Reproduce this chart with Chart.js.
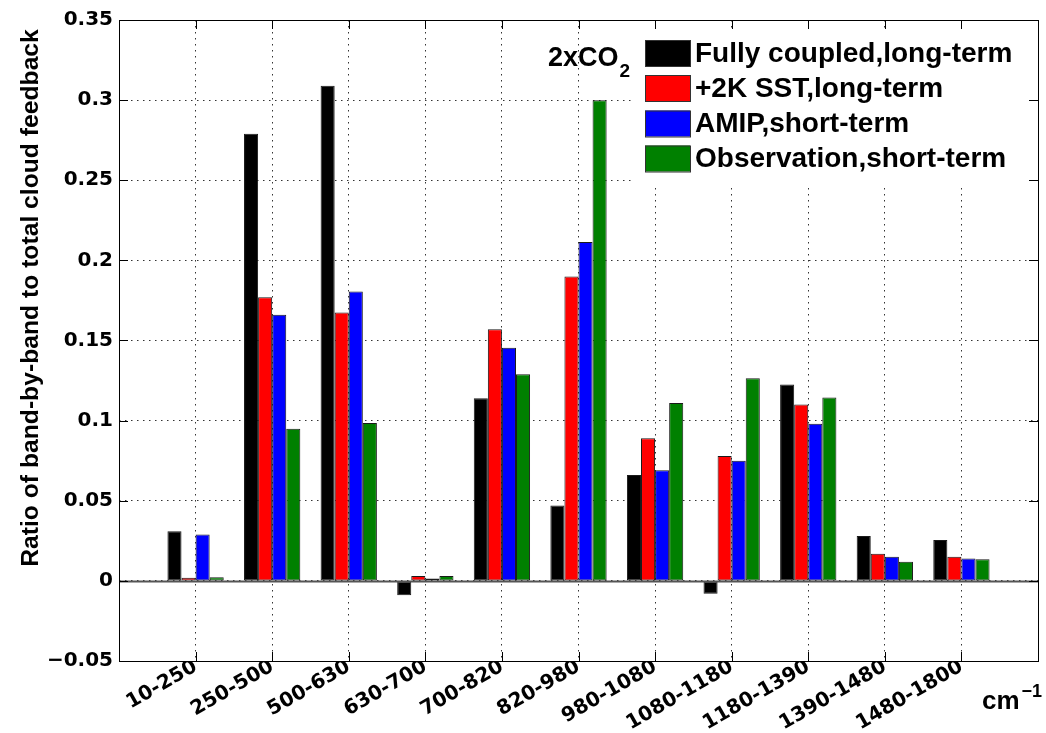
<!DOCTYPE html>
<html>
<head>
<meta charset="utf-8">
<title>Band-by-band cloud feedback ratio</title>
<script src="https://cdn.jsdelivr.net/npm/chart.js@4"></script>
<style>
  html, body { margin: 0; padding: 0; background: #fff; }
  #wrap { width: 1046px; height: 733px; }
</style>
</head>
<body>
<div id="wrap"><canvas id="chart" width="1046" height="733"></canvas></div>
<script>
// Spectral bands (cm^-1)
const categories = ['10-250', '250-500', '500-630', '630-700', '700-820', '820-980',
                    '980-1080', '1080-1180', '1180-1390', '1390-1480', '1480-1800'];

// Ratio of band-by-band to total cloud feedback for each experiment
const fullyCoupled = [0.031, 0.279, 0.309, -0.009, 0.114, 0.047, 0.066, -0.008, 0.1225, 0.028, 0.0255];
const sst2K        = [0.002, 0.177, 0.1675, 0.003, 0.157, 0.190, 0.089, 0.078, 0.110, 0.017, 0.015];
const amip         = [0.029, 0.166, 0.1805, 0.0015, 0.1455, 0.2115, 0.069, 0.075, 0.098, 0.015, 0.014];
const observation  = [0.0023, 0.095, 0.0985, 0.003, 0.129, 0.300, 0.111, 0.1265, 0.1145, 0.012, 0.0135];

const seriesNames = ['Fully coupled,long-term', '+2K SST,long-term', 'AMIP,short-term', 'Observation,short-term'];
const seriesColors = ['#000000', '#ff0000', '#0000ff', '#008000'];

const yTicks = [-0.05, 0, 0.05, 0.1, 0.15, 0.2, 0.25, 0.3, 0.35];
const yTickLabels = ['\u22120.05', '0', '0.05', '0.1', '0.15', '0.2', '0.25', '0.3', '0.35'];

// One empty slot on each side so the bands sit at 1..11 on a 0..12 axis
const labels = [''].concat(categories, ['']);
const pad = arr => [null].concat(arr, [null]);

const seriesValues = [fullyCoupled, sst2K, amip, observation];
const datasets = seriesValues.map((vals, i) => ({
  label: seriesNames[i],
  data: pad(vals),
  backgroundColor: seriesColors[i],
  borderColor: '#1a1a1a',
  borderWidth: 1,
  borderSkipped: false,
  barPercentage: 1.0,
  categoryPercentage: 0.735
}));

const FONT_SANS = '"Liberation Sans", Arial, Helvetica, sans-serif';
const FONT_TICK = '"DejaVu Sans", sans-serif';

// Frame, inward tick marks, zero baseline, legend, axis captions
const decorations = {
  id: 'decorations',
  afterDatasetsDraw(chart) {
    const ctx = chart.ctx;
    const a = chart.chartArea;
    const xs = chart.scales.x, ys = chart.scales.y;
    ctx.save();

    // baseline at zero
    const y0 = Math.round(ys.getPixelForValue(0)) + 0.5;
    ctx.strokeStyle = '#555';
    ctx.lineWidth = 2;
    ctx.beginPath();
    ctx.moveTo(a.left, y0);
    ctx.lineTo(a.right, y0);
    ctx.stroke();

    // frame
    ctx.strokeStyle = '#000';
    ctx.lineWidth = 1;
    ctx.strokeRect(Math.round(a.left) + 0.5, Math.round(a.top) + 0.5,
                   Math.round(a.right - a.left), Math.round(a.bottom - a.top));

    // inward ticks
    const tl = 9;
    ctx.beginPath();
    yTicks.forEach(v => {
      const y = Math.round(ys.getPixelForValue(v)) + 0.5;
      ctx.moveTo(a.left, y); ctx.lineTo(a.left + tl, y);
      ctx.moveTo(a.right, y); ctx.lineTo(a.right - tl, y);
    });
    for (let i = 1; i <= categories.length; i++) {
      const x = Math.round(xs.getPixelForValue(i)) + 0.5;
      ctx.moveTo(x, a.bottom); ctx.lineTo(x, a.bottom - tl);
      ctx.moveTo(x, a.top); ctx.lineTo(x, a.top + tl);
    }
    ctx.stroke();

    // legend panel
    ctx.fillStyle = '#fff';
    ctx.fillRect(634, 30, 394, 154);
    const rowY = [53, 88, 123.5, 158.5];
    ctx.font = 'bold 28px ' + FONT_SANS;
    ctx.textBaseline = 'middle';
    ctx.textAlign = 'left';
    chart.data.datasets.forEach((ds, i) => {
      const cy = rowY[i];
      ctx.fillStyle = ds.backgroundColor;
      ctx.fillRect(645, cy - 13, 45, 26);
      ctx.strokeStyle = '#333';
      ctx.lineWidth = 1;
      ctx.strokeRect(645.5, cy - 12.5, 45, 26);
      ctx.fillStyle = '#000';
      ctx.fillText(ds.label, 695, cy + 1);
    });

    // experiment tag
    ctx.textBaseline = 'alphabetic';
    ctx.font = 'bold 27px ' + FONT_SANS;
    ctx.fillText('2xCO', 548, 66);
    const w = ctx.measureText('2xCO').width;
    ctx.font = 'bold 19px ' + FONT_SANS;
    ctx.fillText('2', 548 + w + 1, 77);

    // unit caption
    ctx.font = 'bold 26px ' + FONT_SANS;
    ctx.fillText('cm', 982, 709);
    const wc = ctx.measureText('cm').width;
    ctx.font = 'bold 18px ' + FONT_SANS;
    ctx.fillText('\u22121', 982 + wc + 2, 697);

    // y-axis caption
    ctx.translate(31, 298);
    ctx.rotate(-Math.PI / 2);
    ctx.textAlign = 'center';
    ctx.textBaseline = 'middle';
    ctx.font = 'bold 24.7px ' + FONT_SANS;
    ctx.fillText('Ratio of band-by-band to total cloud feedback', 0, 0);

    ctx.restore();
  }
};

new Chart(document.getElementById('chart'), {
  type: 'bar',
  data: { labels: labels, datasets: datasets },
  options: {
    responsive: false,
    animation: false,
    devicePixelRatio: 1,
    layout: { padding: { left: 0, top: 20, right: 8, bottom: 0 } },
    plugins: {
      legend: { display: false },
      tooltip: { enabled: false },
      title: { display: false }
    },
    scales: {
      x: {
        type: 'category',
        offset: false,
        afterFit(scale) {
          scale.height = 72;
          scale.paddingLeft = 0;
          scale.paddingRight = 0;
        },
        grid: {
          display: true,
          offset: false,
          drawTicks: false,
          color: '#333',
          lineWidth: 1
        },
        border: { display: false, dash: [1.5, 4.5] },
        ticks: {
          autoSkip: false,
          minRotation: 30,
          maxRotation: 30,
          padding: -6,
          color: '#000',
          font: { family: FONT_TICK, size: 20, weight: 'bold' }
        }
      },
      y: {
        min: -0.05,
        max: 0.35,
        afterFit(scale) { scale.width = 119; },
        afterBuildTicks(scale) { scale.ticks = yTicks.map(v => ({ value: v })); },
        grid: {
          display: true,
          drawTicks: false,
          color: '#333',
          lineWidth: 1
        },
        border: { display: false, dash: [1.5, 4.5] },
        ticks: {
          padding: 6,
          color: '#000',
          font: { family: FONT_TICK, size: 20, weight: 'bold' },
          callback(value) {
            const k = yTicks.findIndex(t => Math.abs(t - value) < 1e-9);
            return k >= 0 ? yTickLabels[k] : '';
          }
        }
      }
    }
  },
  plugins: [decorations]
});
</script>
</body>
</html>
